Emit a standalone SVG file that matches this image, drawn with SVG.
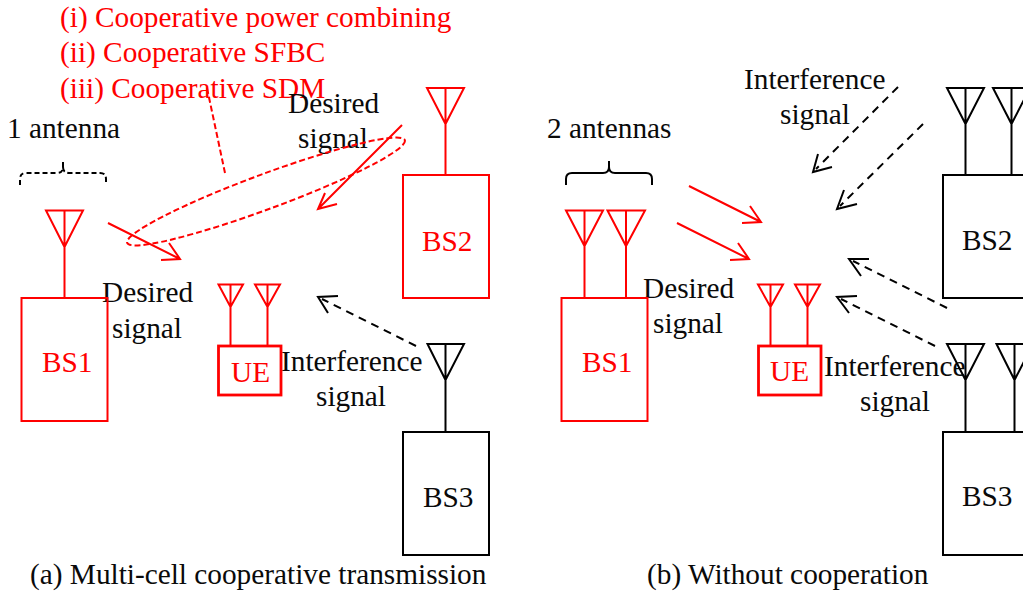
<svg xmlns="http://www.w3.org/2000/svg" width="1023" height="595" viewBox="0 0 1023 595">
<style>
text{font-family:"Liberation Serif","Times New Roman",serif;font-size:29.3px;fill:#0a0a0a}
text.r{fill:#f00}
.box,.ant,.ln{fill:none;stroke-width:2}
.k{stroke:#000}
.red{stroke:#f00}
.thick{stroke-width:2.8}
.dash{stroke-dasharray:8 6}
.conn{fill:none;stroke-width:2}
</style>
<rect width="1023" height="595" fill="#fff"/>
<g id="panel-a-labels">
<text class="r" x="60" y="27">(i) Cooperative power combining</text>
<text class="r" x="60" y="62">(ii) Cooperative SFBC</text>
<text class="r" x="60" y="98">(iii) Cooperative SDM</text>
<text x="7" y="138">1 antenna</text>
<text x="288" y="113">Desired</text>
<text x="298" y="148">signal</text>
<text x="102" y="302">Desired</text>
<text x="112" y="338">signal</text>
<text x="281" y="371">Interference</text>
<text x="316" y="406">signal</text>
<text x="30" y="584">(a) Multi-cell cooperative transmission</text>
</g>
<g id="a-bs1"><rect class="box red" x="21.500" y="298" width="86" height="123"/><path class="ant red" d="M46 210.500H83L64.500 247ZM64.500 210.500V298"/><text class="r" x="42" y="372">BS1</text></g>
<g id="a-bs2"><rect class="box red" x="403" y="175" width="86" height="123"/><path class="ant red" d="M427 88H464L445.500 124ZM445.500 88V175"/><text class="r" x="422" y="251">BS2</text></g>
<g id="a-bs3"><rect class="box k" x="403" y="432" width="86" height="123"/><path class="ant k" d="M427.500 344H464L445.500 380ZM445.500 344V432"/><text x="423" y="507">BS3</text></g>
<g id="a-ue"><rect class="box red thick" x="218.500" y="346" width="62.500" height="49"/><path class="ant red" d="M218.500 284.500H243L230.500 307ZM230.500 284.500V346M255 284.500H280L267.500 307ZM267.500 284.500V346"/><text class="r" x="231" y="382">UE</text></g>
<g id="a-connectors" class="conn">
<path class="red" d="M108 223L180 259M169 243L180 259L161 260"/>
<path class="red" d="M402 125L318 209M337 204L318 209L325 193"/>
<path class="k dash" d="M416 346L322 299"/><path class="k" d="M338 296L318 297L328 313"/>
<ellipse class="red" cx="266" cy="191.500" rx="148" ry="17.500" transform="rotate(-20.300 266 191.500)" stroke-dasharray="6 3"/>
<path class="red" d="M207 88L225 173" stroke-dasharray="6 3"/>
<path class="k" stroke-dasharray="5 3" d="M20 185V179Q20 173 26 173H57Q63 173 63 167V161M63 167Q63 173 69 173H100Q106 173 106 179V185"/>
</g>
<g id="panel-b-labels">
<text x="744" y="89">Interference</text>
<text x="780" y="124">signal</text>
<text x="547" y="138">2 antennas</text>
<text x="643" y="298">Desired</text>
<text x="653" y="333">signal</text>
<text x="824" y="376">Interference</text>
<text x="860" y="411">signal</text>
<text x="647" y="584">(b) Without cooperation</text>
</g>
<g id="b-bs1"><rect class="box red" x="561.500" y="298" width="86" height="123"/><path class="ant red" d="M566 210.500H603L584.500 246ZM584.500 210.500V297M607.500 210.500H645L626 246ZM626 210.500V297"/><text class="r" x="582" y="372">BS1</text></g>
<g id="b-bs2"><rect class="box k" x="943" y="175" width="90" height="123"/><path class="ant k" d="M947 88H984L965.500 124ZM965.500 88V175M993 88H1030L1011.500 124ZM1011.500 88V175"/><text x="962" y="250">BS2</text></g>
<g id="b-bs3"><rect class="box k" x="943" y="432" width="90" height="123"/><path class="ant k" d="M947 344H984L965.500 380ZM965.500 344V432M996.500 344H1033L1014.500 380ZM1014.500 344V432"/><text x="962" y="506">BS3</text></g>
<g id="b-ue"><rect class="box red thick" x="758.500" y="346" width="62.500" height="49"/><path class="ant red" d="M758 284.500H783L770.500 307ZM770.500 284.500V346M795 284.500H820L807.500 307ZM807.500 284.500V346"/><text class="r" x="770" y="381">UE</text></g>
<g id="b-connectors" class="conn">
<path class="k" d="M566 185V179Q566 173 572 173H603Q609 173 609 167V161M609 167Q609 173 615 173H646Q652 173 652 179V185"/>
<path class="red" d="M689 186L761 222M750 206L761 222L742 223"/>
<path class="red" d="M677 223L749 259M738 243L749 259L730 260"/>
<path class="k dash" d="M898 87L816 169"/><path class="k" d="M832 167L813 172L818 154"/>
<path class="k dash" d="M923 124L840 206"/><path class="k" d="M857 204L837 209L844 190"/>
<path class="k dash" d="M947 308L853 261"/><path class="k" d="M869 259L849 259L861 276"/>
<path class="k dash" d="M935 346L841 299"/><path class="k" d="M857 296L837 297L849 313"/>
</g>
</svg>
